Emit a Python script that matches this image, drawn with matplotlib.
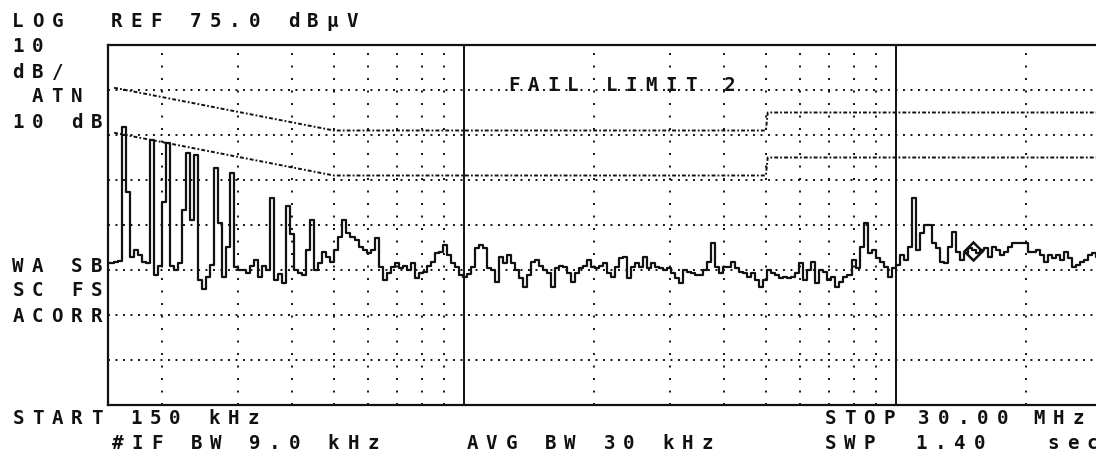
import numpy as np
import matplotlib
matplotlib.use("Agg")
import matplotlib.pyplot as plt

plt.rcParams['lines.scale_dashes'] = False

# ---- instrument settings (from the screen annotations) ----
START_MHZ = 0.15
STOP_MHZ = 30.0
REF_DBUV = 75.0
DB_PER_DIV = 10.0
N_DIV = 8

# ---- measured trace (dBuV), one value per sweep point, log-spaced sweep ----
trace_dbuv = [
    26.6, 26.6, 26.8, 27.0, 56.8, 42.3, 28.0, 29.4, 28.3, 26.8,
    26.5, 53.9, 24.0, 26.0, 40.0, 53.2, 26.0, 25.0, 26.5, 38.3,
    51.0, 36.1, 50.6, 22.8, 20.8, 23.5, 26.1, 47.7, 35.4, 23.5,
    30.0, 46.5, 25.7, 25.0, 25.0, 24.3, 26.0, 27.2, 23.5, 26.0,
    25.0, 41.0, 22.8, 24.1, 22.1, 39.2, 33.0, 25.0, 24.3, 24.0,
    29.4, 36.0, 25.0, 26.5, 29.0, 28.0, 26.8, 29.4, 32.4, 36.1,
    33.2, 32.4, 31.7, 30.2, 29.4, 28.8, 29.4, 32.0, 25.7, 22.8,
    24.3, 25.7, 26.5, 25.5, 26.0, 25.0, 26.5, 23.2, 24.3, 24.6,
    26.0, 26.8, 28.8, 29.0, 30.6, 28.3, 26.5, 25.7, 23.9, 23.5,
    24.2, 25.7, 29.9, 30.6, 29.9, 25.4, 25.0, 22.3, 27.9, 26.5,
    28.3, 26.5, 25.0, 23.2, 21.2, 23.9, 26.8, 27.2, 26.0, 25.0,
    24.3, 21.2, 25.4, 26.0, 25.7, 24.3, 22.3, 24.3, 25.4, 26.0,
    27.2, 25.7, 25.4, 26.0, 26.5, 24.3, 23.5, 25.7, 27.6, 27.9,
    23.2, 25.7, 26.5, 25.7, 27.9, 25.4, 26.5, 25.7, 25.4, 25.0,
    25.4, 24.3, 23.2, 22.1, 25.0, 24.6, 24.3, 23.9, 23.9, 25.0,
    26.8, 31.0, 25.7, 24.3, 25.7, 25.7, 26.8, 25.4, 24.6, 24.3,
    23.5, 24.3, 22.8, 21.2, 22.8, 25.0, 24.3, 23.9, 23.2, 23.5,
    23.2, 23.5, 24.3, 26.5, 22.8, 25.0, 26.8, 22.1, 25.0, 24.6,
    22.8, 23.5, 21.2, 22.3, 23.5, 23.9, 27.2, 25.4, 30.2, 35.4,
    28.8, 29.4, 27.6, 26.8, 25.7, 23.5, 25.4, 26.1, 28.3, 27.2,
    30.2, 41.0, 29.4, 33.2, 35.0, 35.0, 31.0, 29.9, 26.8, 26.5,
    30.2, 33.4, 29.0, 27.2, 28.8, 29.9, 29.4, 28.8, 29.4, 29.9,
    28.0, 30.2, 29.4, 28.3, 29.0, 30.2, 31.0, 31.0, 31.0, 31.0,
    29.0, 29.0, 29.4, 28.3, 26.8, 28.3, 27.6, 28.3, 27.2, 29.0,
    27.6, 25.7, 26.1, 26.8, 27.2, 28.3, 28.8, 28.0, 28.0,
]

# ---- limit lines (limit 1: quasi-peak, limit 2: average) ----
limit1_freq_mhz = [0.155, 0.5, 5.0, 5.05, 30.0]
limit1_dbuv = [65.5, 56.0, 56.0, 60.0, 60.0]
limit2_freq_mhz = [0.155, 0.5, 5.0, 5.05, 30.0]
limit2_dbuv = [55.5, 46.0, 46.0, 50.0, 50.0]

# ---- graticule ----
grid_freqs_mhz = [0.2, 0.3, 0.4, 0.5, 0.6, 0.7, 0.8, 0.9,
                  2, 3, 4, 5, 6, 7, 8, 9, 20]
decade_freqs_mhz = [1.0, 10.0]

# ---- marker ----
marker_freq_mhz = 15.1
marker_dbuv = 29.2

W, H = 1096, 461
fig = plt.figure(figsize=(W / 100, H / 100), dpi=100)
fig.patch.set_facecolor('white')

# plot area: 30 MHz edge falls just past the right of the screen capture
ax = fig.add_axes([108 / W, (H - 405) / H, (1102 - 108) / W, 360 / H])
ax.set_xscale('log')
ax.set_xlim(START_MHZ, STOP_MHZ)
ax.set_ylim(REF_DBUV - N_DIV * DB_PER_DIV, REF_DBUV)
ax.set_facecolor('white')
ax.tick_params(which='both', left=False, bottom=False, labelleft=False, labelbottom=False)
ax.minorticks_off()
ax.set_xticks([])
ax.set_yticks([])
for s in ['top', 'bottom', 'left', 'right']:
    ax.spines[s].set_linewidth(1.6)
    ax.spines[s].set_color('#111111')

ink = '#111111'
# horizontal dotted graticule
for k in range(1, N_DIV):
    lev = REF_DBUV - k * DB_PER_DIV
    ax.axhline(lev, color=ink, lw=1.4, linestyle=(0, (1.4, 4.0)), zorder=1)
# vertical dotted graticule
for f in grid_freqs_mhz:
    ax.axvline(f, color=ink, lw=1.4, linestyle=(0, (1.4, 7.6)), zorder=1)
for f in decade_freqs_mhz:
    ax.axvline(f, color=ink, lw=1.4, zorder=2)

# limit lines
ax.plot(limit1_freq_mhz, limit1_dbuv, color=ink, lw=1.4,
        linestyle=(0, (2.8, 1.5, 1.3, 1.5)), zorder=2)
ax.plot(limit2_freq_mhz, limit2_dbuv, color=ink, lw=1.4,
        linestyle=(0, (2.8, 1.5, 1.3, 1.5)), zorder=2)

# trace
freqs = np.logspace(np.log10(START_MHZ), np.log10(STOP_MHZ), len(trace_dbuv))
ax.plot(freqs, trace_dbuv, color=ink, lw=1.6, drawstyle='steps-mid', zorder=3)

# marker
ax.plot([marker_freq_mhz], [marker_dbuv], marker='D', markersize=9,
        markerfacecolor='none', markeredgecolor=ink, markeredgewidth=1.8, zorder=4)

# ---- screen annotations, fixed-pitch like the analyzer font ----
PITCH = 19.6
FS = 13.8


def screen_text(x_left, y_center, s):
    for k, ch in enumerate(s):
        if ch == ' ':
            continue
        cx = x_left + k * PITCH + 6.0
        fig.text(cx / W, 1 - y_center / H, ch, ha='center', va='center',
                 fontsize=FS, family='DejaVu Sans Mono', fontweight='bold',
                 color=ink)


screen_text(12, 21.5, "LOG")
screen_text(111, 21.5, "REF 75.0 dBµV")
screen_text(12, 46, "10")
screen_text(12, 72, "dB/")
screen_text(12, 96, " ATN")
screen_text(12, 122, "10 dB")
screen_text(12, 266, "WA SB")
screen_text(12, 290, "SC FS")
screen_text(12, 316, "ACORR")
screen_text(508, 85, "FAIL LIMIT 2")
screen_text(12, 419, "START 150 kHz")
screen_text(112, 443, "#IF BW 9.0 kHz")
screen_text(466, 443, "AVG BW 30 kHz")
screen_text(824, 419, "STOP")
screen_text(918, 419, "30.00")
screen_text(1033, 419, "MHz")
screen_text(824, 443, "SWP")
screen_text(915, 443, "1.40")
screen_text(1047, 443, "sec")

fig.savefig('out.png', dpi=100, facecolor='white')
